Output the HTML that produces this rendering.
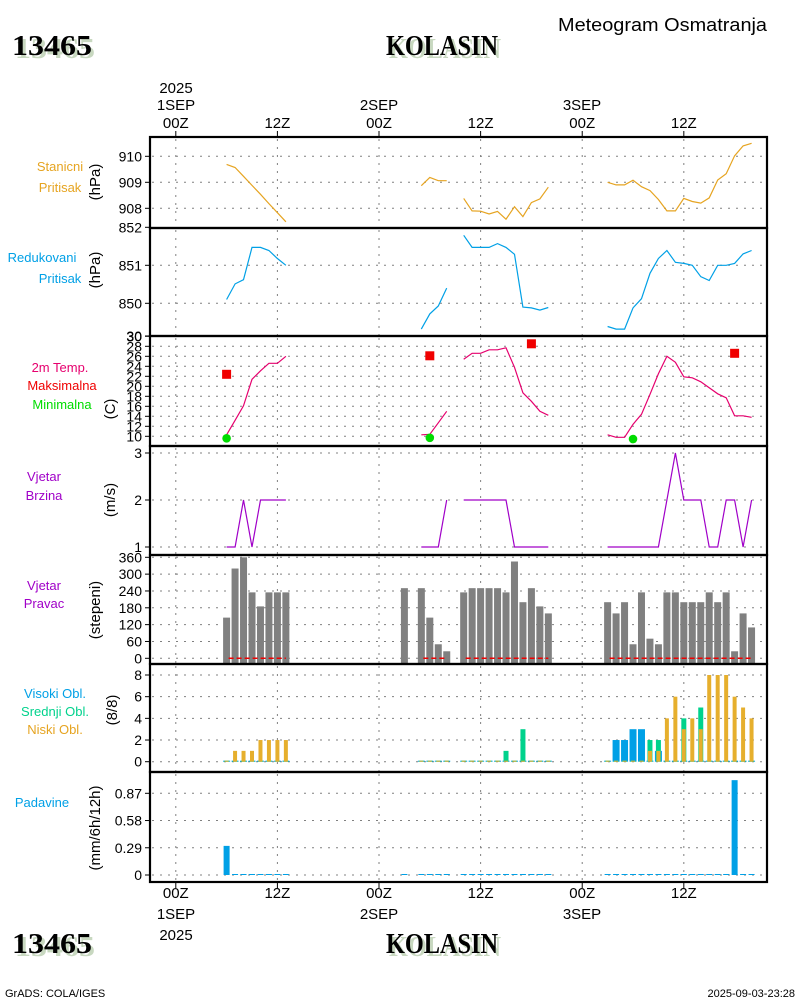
<!DOCTYPE html>
<html><head><meta charset="utf-8"><style>
html,body{margin:0;padding:0;background:#fff}
svg{display:block}
text{font-family:"Liberation Sans",sans-serif}
text.ttl{font-family:"Liberation Serif",serif;font-weight:bold}
</style></head><body>
<svg id="chart" width="800" height="1000" viewBox="0 0 800 1000" xmlns="http://www.w3.org/2000/svg">
<g>
<text class="ttl" style="font-family:'Liberation Serif',serif" x="15" y="58" font-size="29" fill="#c8d8c0" textLength="80" lengthAdjust="spacingAndGlyphs">13465</text>
<text class="ttl" style="font-family:'Liberation Serif',serif" x="12" y="55" font-size="29" fill="#000" textLength="80" lengthAdjust="spacingAndGlyphs">13465</text>
<text class="ttl" style="font-family:'Liberation Serif',serif" x="389" y="58" font-size="29" fill="#c8d8c0" textLength="112" lengthAdjust="spacingAndGlyphs">KOLASIN</text>
<text class="ttl" style="font-family:'Liberation Serif',serif" x="386" y="55" font-size="29" fill="#000" textLength="112" lengthAdjust="spacingAndGlyphs">KOLASIN</text>
<text x="558" y="31" font-size="18" fill="#000" textLength="209" lengthAdjust="spacingAndGlyphs">Meteogram Osmatranja</text>
</g>
<g>
<text class="ttl" style="font-family:'Liberation Serif',serif" x="15" y="956" font-size="29" fill="#c8d8c0" textLength="80" lengthAdjust="spacingAndGlyphs">13465</text>
<text class="ttl" style="font-family:'Liberation Serif',serif" x="12" y="953" font-size="29" fill="#000" textLength="80" lengthAdjust="spacingAndGlyphs">13465</text>
<text class="ttl" style="font-family:'Liberation Serif',serif" x="389" y="956" font-size="29" fill="#c8d8c0" textLength="112" lengthAdjust="spacingAndGlyphs">KOLASIN</text>
<text class="ttl" style="font-family:'Liberation Serif',serif" x="386" y="953" font-size="29" fill="#000" textLength="112" lengthAdjust="spacingAndGlyphs">KOLASIN</text>
<text x="5" y="997" font-size="11" fill="#000">GrADS: COLA/IGES</text>
<text x="795" y="997" font-size="11" fill="#000" text-anchor="end">2025-09-03-23:28</text>
</g>
<g id="layer"></g>
</svg>
<script>
// ---- data (hourly observations, hour 0 = 1SEP 00Z) ----
const obsHours = [6,7,8,9,10,11,12,13, 29,30,31,32, 34,35,36,37,38,39,40,41,42,43,44, 51,52,53,54,55,56,57,58,59,60,61,62,63,64,65,66,67,68];
const stnPres = [909.69,909.57,909.23,908.88,908.54,908.18,907.83,907.48, 908.87,909.19,909.06,909.06, 908.38,907.90,907.89,907.78,907.88,907.58,908.06,907.68,908.22,908.36,908.81, 909.0,908.90,908.90,909.08,908.83,908.68,908.34,907.90,907.90,908.38,908.26,908.20,908.40,909.09,909.33,910.02,910.40,910.50];
const redPres = [850.10,850.51,850.62,851.47,851.47,851.39,851.18,851.0, 849.32,849.72,849.93,850.40, 851.79,851.47,851.47,851.47,851.57,851.47,851.29,849.90,849.88,849.82,849.89, 849.39,849.32,849.32,849.88,850.12,850.79,851.18,851.39,851.08,851.05,851.0,850.70,850.60,851.0,851.0,851.05,851.30,851.39];
const temp2m = [10.3,13.2,16.1,21.4,23.1,24.6,24.6,26.0, 10.3,10.4,12.7,15.0, 25.4,26.6,26.6,27.3,27.3,27.7,23.8,18.7,17.0,15.0,14.2, 10.3,9.8,9.8,12.4,14.4,18.4,22.5,26.0,24.8,21.9,21.7,20.9,19.7,18.5,17.7,14.1,14.1,13.8];
const tmaxHours = [6,30,42,66];
const tmaxVals = [22.4,26.1,28.5,26.6];
const tminHours = [6,30,54];
const tminVals = [9.6,9.7,9.45];
const windSpd = [1,1,2,1,2,2,2,2, 1,1,1,2, 2,2,2,2,2,2,1,1,1,1,1, 1,1,1,1,1,1,1,2,3,2,2,2,1,1,2,2,1,2];
const dirHours = [6,7,8,9,10,11,12,13, 27, 29,30,31,32, 34,35,36,37,38,39,40,41,42,43,44, 51,52,53,54,55,56,57,58,59,60,61,62,63,64,65,66,67,68];
const windDir = [145,320,360,235,185,235,235,235, 250, 250,145,50,25, 235,250,250,250,250,235,345,200,250,185,160, 200,160,200,50,235,70,50,235,235,200,200,200,235,200,235,25,160,110];
const cloudHigh = [0,0,0,0,0,0,0,0, 0,0,0,0, 0,0,0,0,0,0,0,0,0,0,0, 0,2,2,3,3,0,1,0,0,0,0,0,0,0,0,0,0,0];
const cloudMid  = [0,0,0,0,0,0,0,0, 0,0,0,0, 0,0,0,0,0,1,0,3,0,0,0, 0,0,0,0,0,2,2,0,0,4,0,5,0,0,0,0,0,0];
const cloudLow  = [0,1,1,1,2,2,2,2, 0,0,0,0, 0,0,0,0,0,0,0,0,0,0,0, 0,0,0,0,0,1,1,4,6,3,4,3,8,8,8,6,5,4];
const precip = [0.31,0,0,0,0,0,0,0, 0, 0,0,0,0, 0,0,0,0,0,0,0,0,0,0,0, 0,0,0,0,0,0,0,0,0,0,0,0,0,0,0,1.01,0,0];
const timeTicks = [0,12,24,36,48,60];
const timeTickLabels = ["00Z","12Z","00Z","12Z","00Z","12Z"];
const presTicks = [908,909,910];
const redTicks = [850,851,852];
const tempTicks = [10,12,14,16,18,20,22,24,26,28,30];
const spdTicks = [1,2,3];
const dirTicks = [0,60,120,180,240,300,360];
const cloudTicks = [0,2,4,6,8];
const precipTicks = [0,0.29,0.58,0.87];

// ---- layout ----
const NS="http://www.w3.org/2000/svg";
const layer=document.getElementById('layer');
const X0=150,X1=767;
const x=h=>175.8+h*8.467;
function el(tag,attrs,parent){const e=document.createElementNS(NS,tag);for(const k in attrs)e.setAttribute(k,attrs[k]);(parent||layer).appendChild(e);return e;}
function lin(d0,d1,r0,r1){return v=>r0+(v-d0)*(r1-r0)/(d1-d0);}

const panels=[
 {key:'stn',top:137,bot:228,y:lin(910,909,156.3,182.3),ticks:presTicks,labels:presTicks.map(String)},
 {key:'red',top:228,bot:336,y:lin(851,850,265.3,303.3),ticks:redTicks.concat([849.14]),labels:["850","851","852","30"]},
 {key:'tmp',top:336,bot:446,y:lin(10,30,436.3,336.3),ticks:tempTicks,labels:tempTicks.map(String)},
 {key:'spd',top:446,bot:555,y:lin(1,3,547,453),ticks:spdTicks,labels:spdTicks.map(String)},
 {key:'dir',top:555,bot:664,y:lin(0,360,658.3,557.3),ticks:dirTicks,labels:dirTicks.map(String)},
 {key:'cld',top:664,bot:772,y:lin(0,8,761.7,675),ticks:cloudTicks,labels:cloudTicks.map(String)},
 {key:'pcp',top:772,bot:882,y:lin(0,0.87,875,793.3),ticks:precipTicks,labels:["0","0.29","0.58","0.87"]}
];
const P={};panels.forEach(p=>P[p.key]=p);

panels.forEach(p=>{
 const g=el('g',{});
 
 
 timeTicks.forEach(t=>{
  const l=el('line',{x1:x(t),x2:x(t),y1:p.top+2,y2:p.bot-1,stroke:'#808080','stroke-width':1,'stroke-dasharray':'2,6'},g);
  
  
 });
 p.ticks.forEach((t,i)=>{
  const yy=p.y(t);
  if(yy>p.top+1 && yy<p.bot-1){
   const l=el('line',{x1:X0+2,x2:X1,y1:yy,y2:yy,stroke:'#808080','stroke-width':1,'stroke-dasharray':'2,6'},g);
   
   
  }
  el('line',{x1:X0-5,x2:X0,y1:yy,y2:yy,stroke:'#000','stroke-width':1},g);
  const tx=el('text',{x:X0-8,y:yy+5,'font-size':14,'text-anchor':'end',fill:'#000'},g);
  tx.textContent=p.labels[i];
  
  
 });
});

function lineSeries(hours,vals,p,color,name){
 let seg=[];const segs=[];
 hours.forEach((h,i)=>{if(seg.length&&h-hours[i-1]>1){segs.push(seg);seg=[];}seg.push([x(h),p.y(vals[i])]);});
 if(seg.length)segs.push(seg);
 segs.forEach(s=>{
  const pl=el('polyline',{points:s.map(q=>q[0].toFixed(1)+','+q[1].toFixed(1)).join(' '),fill:'none',stroke:color,'stroke-width':1.2});
  
  
 });
}
function bars(hours,vals,p,color,w,name,base){
 hours.forEach((h,i)=>{
  const b=base!==undefined?base:p.y(0);
  const yt=p.y(vals[i]);
  const top=Math.min(yt,b-1);
  const r=el('rect',{x:x(h)-w/2,y:top,width:w,height:Math.max(1,b-top),fill:color});
  
  
 });
}

lineSeries(obsHours,stnPres,P.stn,'#e6a421','station-pressure-line');
lineSeries(obsHours,redPres,P.red,'#00a0e6','reduced-pressure-line');
lineSeries(obsHours,temp2m,P.tmp,'#e6006e','temperature-line');
tmaxHours.forEach((h,i)=>{
 const r=el('rect',{x:x(h)-4.5,y:P.tmp.y(tmaxVals[i])-4.5,width:9,height:9,fill:'#f00000'});
 
 
});
tminHours.forEach((h,i)=>{
 const c=el('circle',{cx:x(h),cy:P.tmp.y(tminVals[i]),r:4.3,fill:'#00dc00'});
 
 
});
lineSeries(obsHours,windSpd,P.spd,'#a000c8','wind-speed-line');
bars(dirHours,windDir,P.dir,'#808080',7,'wind-direction-bar',P.dir.bot-1);
(function(){let s=obsHours[0];for(let i=1;i<=obsHours.length;i++){if(i===obsHours.length||obsHours[i]-obsHours[i-1]>1){
 const l=el('line',{x1:x(s)+2,x2:x(obsHours[i-1]),y1:P.dir.y(0),y2:P.dir.y(0),stroke:'#f00000','stroke-width':1.5,'stroke-dasharray':'5,3'});
 
 
 if(i<obsHours.length)s=obsHours[i];}}})();
bars(obsHours,cloudHigh,P.cld,'#00a0e6',7,'high-cloud-bar');
bars(obsHours,cloudMid,P.cld,'#00d28c',5,'mid-cloud-bar');
bars(obsHours,cloudLow,P.cld,'#e6af2d',4,'low-cloud-bar');
bars(dirHours,precip,P.pcp,'#00a0e6',6,'precip-bar');

panels.forEach(p=>{
 const r=el('rect',{x:X0,y:p.top,width:X1-X0,height:p.bot-p.top,fill:'none',stroke:'#000','stroke-width':2.2});
 
 
});
timeTicks.forEach((t,i)=>{
 el('line',{x1:x(t),x2:x(t),y1:131,y2:137,stroke:'#000'});
 el('line',{x1:x(t),x2:x(t),y1:882,y2:888,stroke:'#000'});
 const a=el('text',{x:x(t),y:128,'font-size':15,'text-anchor':'middle',fill:'#000'});a.textContent=timeTickLabels[i];
 
 
 const b=el('text',{x:x(t),y:898,'font-size':15,'text-anchor':'middle',fill:'#000'});b.textContent=timeTickLabels[i];
 
 
});
[[176,93,"2025"],[176,110,"1SEP"],[379,110,"2SEP"],[582,110,"3SEP"],[176,919,"1SEP"],[176,940,"2025"],[379,919,"2SEP"],[582,919,"3SEP"]].forEach(d=>{
 const t=el('text',{x:d[0],y:d[1],'font-size':15,'text-anchor':'middle',fill:'#000'});t.textContent=d[2];
 
 
});
const leftLabels=[
 [60,171,'Stanicni','#e6a421'],[60,192,'Pritisak','#e6a421'],
 [42,262,'Redukovani','#00a0e6'],[60,283,'Pritisak','#00a0e6'],
 [60,372,'2m Temp.','#e6006e'],[62,390,'Maksimalna','#f00000'],[62,409,'Minimalna','#00dc00'],
 [44,481,'Vjetar','#a000c8'],[44,500,'Brzina','#a000c8'],
 [44,590,'Vjetar','#a000c8'],[44,608,'Pravac','#a000c8'],
 [55,698,'Visoki Obl.','#00a0e6'],[55,716,'Srednji Obl.','#00d28c'],[55,734,'Niski Obl.','#e6a421'],
 [42,807,'Padavine','#00a0e6']];
leftLabels.forEach(d=>{
 const t=el('text',{x:d[0],y:d[1],'font-size':13,'text-anchor':'middle',fill:d[3]});t.textContent=d[2];
 
 
});
const units=[[95,182,'(hPa)'],[95,270,'(hPa)'],[110,409,'(C)'],[110,500,'(m/s)'],[95,610,'(stepeni)'],[112,710,'(8/8)'],[95,828,'(mm/6h/12h)']];
units.forEach(d=>{
 const t=el('text',{x:d[0],y:d[1],'font-size':15,'text-anchor':'middle',fill:'#000',transform:'rotate(-90 '+d[0]+' '+d[1]+')',dy:5});t.textContent=d[2];
 
 
});
</script>
</body></html>
